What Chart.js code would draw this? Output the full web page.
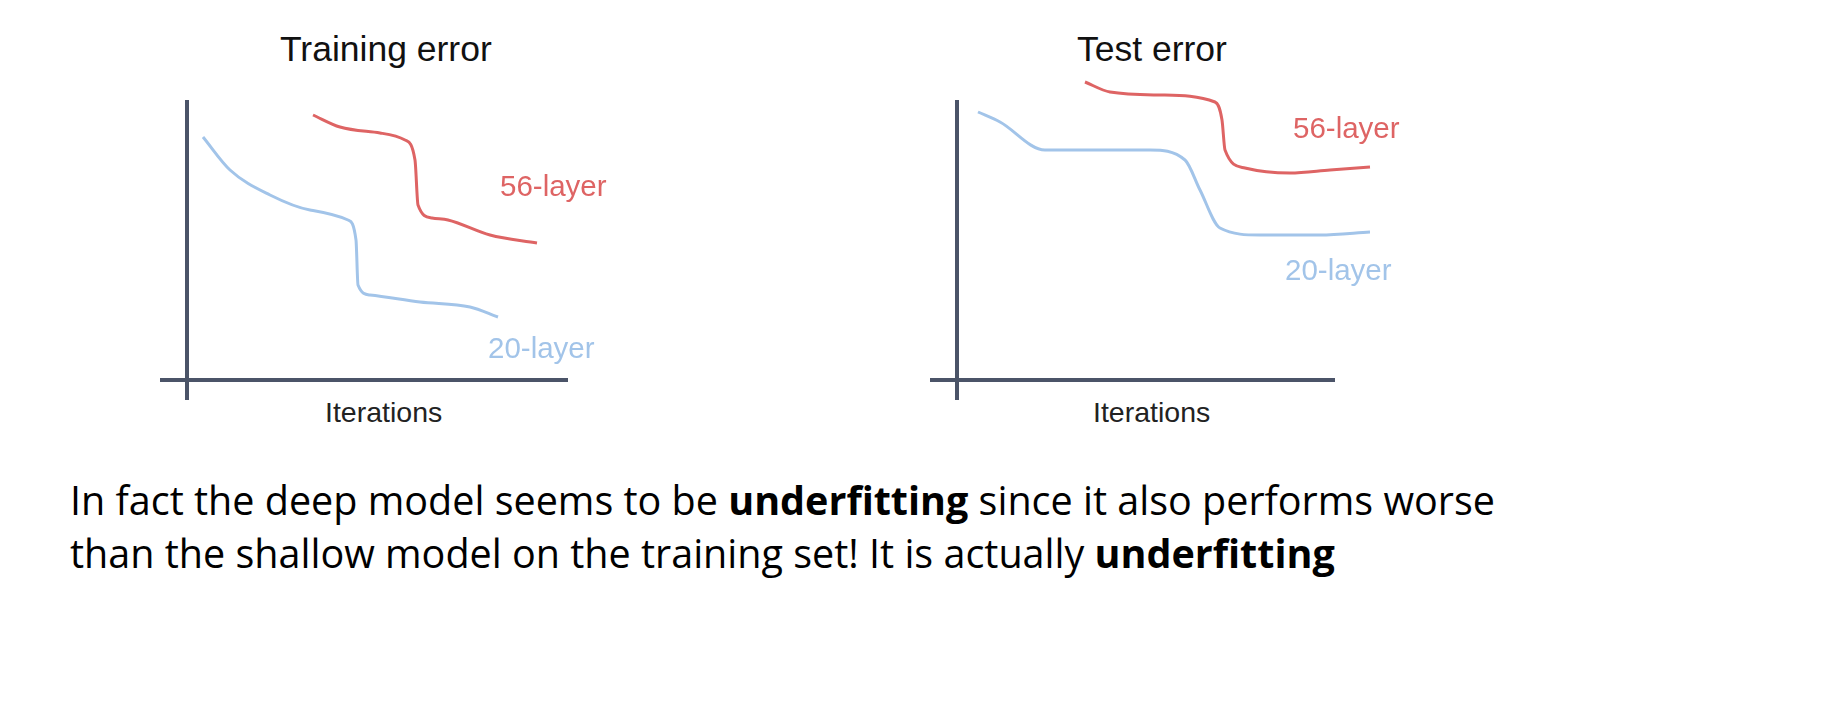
<!DOCTYPE html>
<html>
<head>
<meta charset="utf-8">
<script src="https://cdn.jsdelivr.net/npm/chart.js@4/dist/chart.umd.min.js"></script>
<style>
  body { margin: 0; width: 1848px; height: 702px; background: #fff; position: relative; overflow: hidden; font-family: 'Liberation Sans', sans-serif; }
  canvas { position: absolute; }
  .lbl { position: absolute; white-space: nowrap; }
  .title { font-size: 35.5px; color: #111; }
  .axis { font-size: 28.5px; color: #222; }
  #caption { position: absolute; left: 70px; top: 474px; font-family: 'Open Sans', sans-serif; font-size: 39.5px; line-height: 53px; color: #000; }
</style>
</head>
<body>
<div class="lbl title" style="left:280px;top:29px">Training error</div>
<div class="lbl axis" style="left:325px;top:396px">Iterations</div>
<div class="lbl title" style="left:1077px;top:29px">Test error</div>
<div class="lbl axis" style="left:1093px;top:396px">Iterations</div>
<canvas id="train" width="520" height="360" style="left:127px;top:60px"></canvas>
<canvas id="test" width="520" height="360" style="left:897px;top:60px"></canvas>
<div id="caption">In fact the deep model seems to be <b>underfitting</b> since it also performs worse<br>than the shallow model on the training set! It is actually <b>underfitting</b></div>
<script>
// curves (x: iterations, y: error), origin at axis crossing
const train20x = [16, 43, 83, 123, 161, 169, 171, 183, 233, 283, 311];
const train20y = [243, 210, 185, 170, 160, 140, 95, 85, 78, 73, 63];
const train56x = [126, 153, 193, 218, 228, 231, 245, 261, 303, 350];
const train56y = [265, 253, 247, 240, 220, 175, 162, 160, 145, 137];
const test20x = [21, 43, 88, 143, 193, 228, 243, 263, 303, 363, 413];
const test20y = [268, 258, 230, 230, 230, 220, 190, 152, 145, 145, 148];
const test56x = [128, 153, 203, 258, 265, 268, 288, 333, 373, 413];
const test56y = [298, 288, 285, 278, 260, 230, 212, 207, 210, 213];

const RED = '#de6464';
const BLUE = '#a2c4e9';
const AXIS = '#4b5468';

const pts = (xs, ys) => xs.map((x, i) => ({ x, y: ys[i] }));

const axesPlugin = {
  id: 'axes',
  beforeDatasetsDraw(chart, args, opts) {
    const { ctx, scales: { x, y } } = chart;
    ctx.save();
    ctx.strokeStyle = AXIS;
    ctx.lineWidth = 4;
    ctx.beginPath();
    ctx.moveTo(x.getPixelForValue(0), y.getPixelForValue(280));
    ctx.lineTo(x.getPixelForValue(0), y.getPixelForValue(-20));
    ctx.moveTo(x.getPixelForValue(-27), y.getPixelForValue(0));
    ctx.lineTo(x.getPixelForValue(opts.xEnd), y.getPixelForValue(0));
    ctx.stroke();
    ctx.font = '29.5px "Liberation Sans", sans-serif';
    ctx.textBaseline = 'middle';
    opts.labels.forEach(l => {
      ctx.fillStyle = l.color;
      ctx.fillText(l.text, x.getPixelForValue(l.x), y.getPixelForValue(l.y));
    });
    ctx.restore();
  }
};

function makeChart(id, d20, d56, xEnd, labels) {
  new Chart(document.getElementById(id), {
    type: 'line',
    data: {
      datasets: [
        { data: d56, borderColor: RED },
        { data: d20, borderColor: BLUE }
      ]
    },
    options: {
      responsive: false,
      animation: false,
      layout: { padding: 0 },
      elements: {
        line: { borderWidth: 3, cubicInterpolationMode: 'monotone' },
        point: { radius: 0 }
      },
      scales: {
        x: { type: 'linear', min: -60, max: 460, display: false },
        y: { type: 'linear', min: -40, max: 320, display: false }
      },
      plugins: {
        legend: { display: false },
        tooltip: { enabled: false },
        axes: { xEnd, labels }
      }
    },
    plugins: [axesPlugin]
  });
}

makeChart('train', pts(train20x, train20y), pts(train56x, train56y), 381, [
  { text: '56-layer', x: 313, y: 192, color: RED },
  { text: '20-layer', x: 301, y: 30, color: BLUE }
]);
makeChart('test', pts(test20x, test20y), pts(test56x, test56y), 378, [
  { text: '56-layer', x: 336, y: 250, color: RED },
  { text: '20-layer', x: 328, y: 108, color: BLUE }
]);
</script>
</body>
</html>
